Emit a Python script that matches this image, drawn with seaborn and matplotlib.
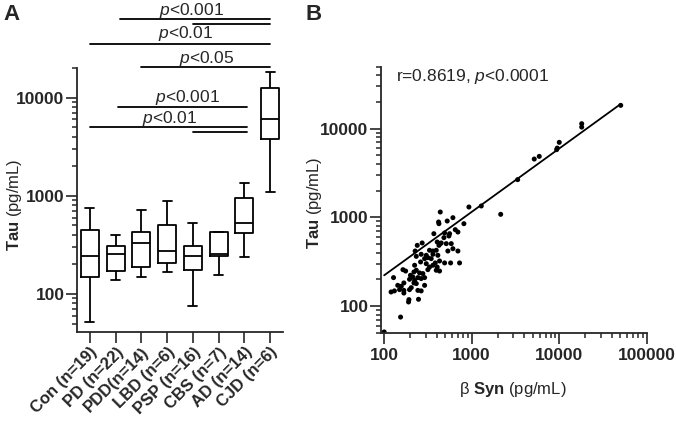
import numpy as np
import pandas as pd
import matplotlib
matplotlib.use("Agg")
import matplotlib.pyplot as plt
import matplotlib.ticker as ticker
import matplotlib.transforms as mtransforms
import seaborn as sns

# panel A: five-number summaries (pg/mL)
groups = ["Con (n=19)", "PD (n=22)", "PDD(n=14)", "LBD (n=6)",
          "PSP (n=16)", "CBS (n=7)", "AD (n=14)", "CJD (n=6)"]
tau_min = [52, 139, 149, 167, 76, 155, 240, 1100]
tau_q1 = [149, 171, 188, 208, 175, 242, 414, 3750]
tau_med = [244, 257, 327, 272, 244, 257, 528, 6070]
tau_q3 = [448, 308, 424, 504, 308, 428, 940, 12400]
tau_max = [745, 398, 710, 877, 524, 432, 1337, 18400]

# significance bars: (start group, end group, label)
sig_start = [1.16, 4, 0, 2, 1.1, 0, 4]
sig_end = [7, 7, 7, 7, 6.12, 6.12, 6.12]
sig_label = ["0.001", None, "0.01", "0.05", "0.001", "0.01", None]

# panel B: individual samples
bsyn = [438, 931, 1290, 419, 423, 526, 611, 816, 370, 491,
        560, 650, 697, 482, 550, 404, 449, 423, 438, 272,
        239, 513, 585, 226, 330, 361, 394, 535, 611, 697,
        265, 303, 361, 411, 290, 316, 345, 233, 261, 303,
        384, 430, 491, 575, 728, 223, 330, 361, 404, 164,
        176, 316, 394, 430, 219, 233, 254, 277, 200, 213,
        243, 265, 290, 128, 195, 223, 168, 219, 233, 143,
        157, 204, 290, 150, 168, 195, 243, 265, 120, 131,
        168, 192, 190, 247, 154, 100,
        2150, 3360, 5200, 5935, 9380, 9530, 10050, 18150, 18150, 50700]
tau = [1148, 1308, 1343, 886, 848, 909, 991, 848, 654, 666,
       654, 726, 683, 590, 616, 527, 514, 483, 505, 514,
       483, 505, 505, 417, 425, 417, 425, 417, 443, 417,
       383, 373, 383, 373, 342, 351, 342, 363, 314, 300,
       306, 322, 306, 306, 306, 288, 275, 288, 275, 257,
       248, 257, 253, 248, 242, 253, 236, 232, 222, 212,
       209, 204, 209, 209, 200, 195, 182, 182, 179, 171,
       167, 161, 171, 153, 150, 153, 150, 148, 144, 148,
       140, 118, 111, 119, 75, 51,
       1081, 2661, 4545, 4870, 5800, 6040, 7010, 11380, 10420, 18320]

# regression line ends
fit_bsyn = [100, 50000]
fit_tau = [222, 18800]


sns.set_style("ticks")
plt.rcParams["font.family"] = ["Liberation Sans", "DejaVu Sans"]
plt.rcParams["mathtext.fontset"] = "custom"
plt.rcParams["mathtext.rm"] = "Liberation Sans"
plt.rcParams["mathtext.it"] = "Liberation Sans:italic"
plt.rcParams["mathtext.bf"] = "Liberation Sans:bold"
plt.rcParams["axes.linewidth"] = 1.3

fig = plt.figure(figsize=(6.76, 4.30), dpi=100)
ax1 = fig.add_axes([0.1139, 0.2279, 0.3047, 0.6140])
ax2 = fig.add_axes([0.5636, 0.2263, 0.3928, 0.6186])

# ---- panel A
rows = []
for i, g in enumerate(groups):
    for v in (tau_min[i], tau_q1[i], tau_med[i], tau_q3[i], tau_max[i]):
        rows.append({"group": g, "tau": v})
df_box = pd.DataFrame(rows)

sns.boxplot(data=df_box, x="group", y="tau", order=groups, whis=(0, 100),
            width=0.7, fill=False, color="black", linewidth=1.3,
            log_scale=True, ax=ax1)

ax1.set_ylim(41, 20000)
ax1.set_xlim(-0.5, 7.5)
ax1.yaxis.set_major_locator(ticker.FixedLocator([100, 1000, 10000]))
ax1.yaxis.set_minor_locator(ticker.LogLocator(base=10, subs=np.arange(2, 10)))
ax1.yaxis.set_major_formatter(ticker.FuncFormatter(lambda v, _: f"{int(v)}"))
ax1.yaxis.set_minor_formatter(ticker.NullFormatter())
ax1.tick_params(axis="both", which="major", length=8, width=1.2, labelsize=12.5, pad=1)
ax1.tick_params(axis="y", which="minor", length=3.5, width=1.1)
ax1.set_xticks(range(len(groups)))
ax1.set_xticklabels(groups, rotation=45, ha="right", rotation_mode="anchor",
                    fontweight="bold", fontsize=12)
for lab in ax1.get_yticklabels():
    lab.set_fontweight("bold")
ax1.set_xlabel("")
ax1.set_ylabel(r"$\mathbf{Tau}$ (pg/mL)", fontsize=12)
ax1.yaxis.set_label_coords(-0.255, 0.48)
sns.despine(ax=ax1)

trans = mtransforms.blended_transform_factory(ax1.transData, ax1.transAxes)
sig_y = [1.1845, 1.1667, 1.0909, 1.005, 0.853, 0.775, 0.7576]
for s, e, lab, yy in zip(sig_start, sig_end, sig_label, sig_y):
    ax1.plot([s, e], [yy, yy], color="black", lw=1.3, transform=trans, clip_on=False)
text_x = [3.93, 3.72, 4.55, 3.78, 3.08]
text_y = [1.2008, 1.1125, 1.0201, 0.8723, 0.7928]
labels = [l for l in sig_label if l is not None]
for tx, ty, lab in zip(text_x, text_y, labels):
    ax1.text(tx, ty, r"$\mathit{p}$<" + lab, transform=trans, ha="center",
             va="baseline", fontsize=12.5)

# ---- panel B
sns.scatterplot(x=bsyn, y=tau, color="black", s=13, edgecolor="none", ax=ax2)
sns.lineplot(x=fit_bsyn, y=fit_tau, color="black", lw=1.3, ax=ax2)
ax2.set_xscale("log")
ax2.set_yscale("log")
ax2.set_xlim(92, 100000)
ax2.set_ylim(50, 50000)
for axis in (ax2.xaxis, ax2.yaxis):
    axis.set_major_locator(ticker.LogLocator(base=10, numticks=10))
    axis.set_minor_locator(ticker.LogLocator(base=10, subs=np.arange(2, 10), numticks=10))
    axis.set_major_formatter(ticker.FuncFormatter(lambda v, _: f"{int(round(v))}"))
    axis.set_minor_formatter(ticker.NullFormatter())
ax2.tick_params(axis="both", which="major", length=8, width=1.2, labelsize=12.5, pad=1)
ax2.tick_params(axis="x", which="major", pad=3)
ax2.tick_params(axis="both", which="minor", length=3.5, width=1.1)
for lab in ax2.get_xticklabels() + ax2.get_yticklabels():
    lab.set_fontweight("bold")
ax2.set_ylabel(r"$\mathbf{Tau}$ (pg/mL)", fontsize=12)
ax2.yaxis.set_label_coords(-0.215, 0.4876)
ax2.set_xlabel(r"β $\mathbf{Syn}$ (pg/mL)", fontsize=12)
ax2.xaxis.set_label_coords(0.497, -0.178)
ax2.text(0.0565, 0.947, r"r=0.8619, $\mathit{p}$<0.0001", transform=ax2.transAxes,
         ha="left", va="baseline", fontsize=12.5)
sns.despine(ax=ax2)

fig.text(0.005, 0.953, "A", fontsize=16, fontweight="bold", ha="left", va="baseline")
fig.text(0.452, 0.953, "B", fontsize=16, fontweight="bold", ha="left", va="baseline")

fig.savefig("out.png", dpi=100)
